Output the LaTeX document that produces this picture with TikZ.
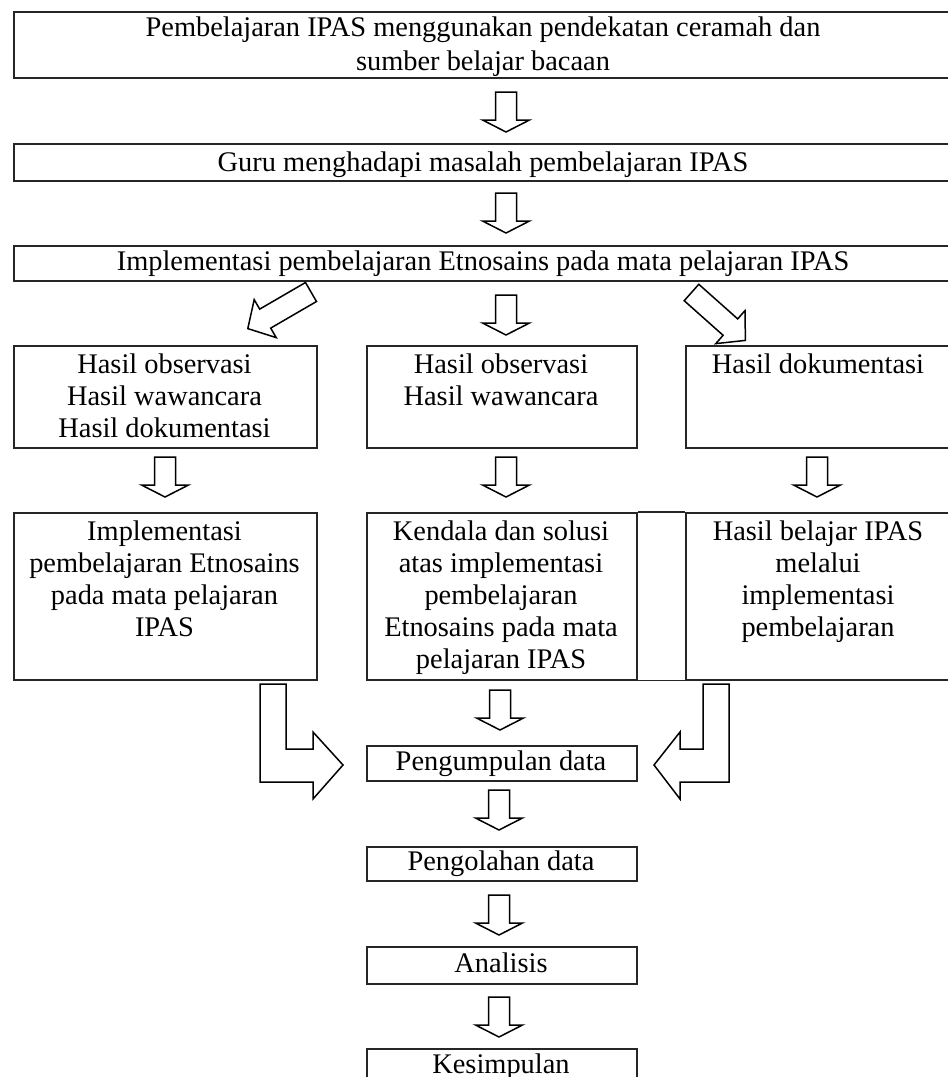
\documentclass[tikz,border=0pt]{standalone}
\usepackage{fontspec}
\setmainfont{Liberation Serif}
\newcommand\varr[1]{\draw[blk] (#1) ++(-10.5,0) -- ++(0,28) -- ++(-13,0) -- ++(23.5,12) -- ++(23.5,-12) -- ++(-13,0) -- ++(0,-28) -- cycle;}
\begin{document}
\begin{tikzpicture}[x=1pt,y=-1pt,
  box/.style={draw=black!85, line width=1.6pt, inner sep=0pt, anchor=north west},
  boxline/.style={draw=black!85, line width=1.6pt},
  txt/.style={inner sep=0pt, align=center, anchor=base, font=\fontsize{28.4}{32}\selectfont},
  blk/.style={draw=black, line width=1.5pt, fill=white, line join=miter}]
\useasboundingbox (0,0) rectangle (948,1077);
% boxes
\node[box, minimum width=940pt, minimum height=66pt] (top) at (13,11) {};
\node[box, minimum width=940pt, minimum height=37pt] (guru) at (13,143) {};
\node[box, minimum width=940pt, minimum height=35pt] (impl) at (13,245) {};
\node[box, minimum width=303pt, minimum height=102pt] (hA) at (13,345) {};
\node[box, minimum width=270pt, minimum height=102pt] (hB) at (366,345) {};
\node[box, minimum width=268pt, minimum height=102pt] (hC) at (685,345) {};
\node[box, minimum width=303pt, minimum height=167pt] (rA) at (13,512) {};
\node[box, minimum width=270pt, minimum height=167pt] (rB) at (366,512) {};
\node[box, minimum width=268pt, minimum height=167pt] (rC) at (685,512) {};
\draw[boxline] (rB.north east) -- (rC.north west);
\draw[boxline] (rB.south east) -- (rC.south west);
\node[box, minimum width=270pt, minimum height=35pt] (peng) at (366,745) {};
\node[box, minimum width=270pt, minimum height=34pt] (olah) at (366,846) {};
\node[box, minimum width=270pt, minimum height=37pt] (anal) at (366,946) {};
\node[box, minimum width=270pt, minimum height=40pt] (kes) at (366,1048) {};
% texts (anchor base = baseline of last line)
\node[txt] (ttop) at (483,70) {Pembelajaran IPAS menggunakan pendekatan ceramah dan\\[2pt] sumber belajar bacaan};
\node[txt] (tguru) at (483,171) {Guru menghadapi masalah pembelajaran IPAS};
\node[txt] (timpl) at (483,270.5) {Implementasi pembelajaran Etnosains pada mata pelajaran IPAS};
\node[txt] (thA) at (164.5,437) {Hasil observasi\\Hasil wawancara\\Hasil dokumentasi};
\node[txt] (thB) at (501,405) {Hasil observasi\\Hasil wawancara};
\node[txt] (thC) at (818,373) {Hasil dokumentasi};
\node[txt] (trA) at (164.5,636) {Implementasi\\pembelajaran Etnosains\\pada mata pelajaran\\IPAS};
\node[txt] (trB) at (501,668) {Kendala dan solusi\\atas implementasi\\pembelajaran\\Etnosains pada mata\\pelajaran IPAS};
\node[txt] (trC) at (818,636) {Hasil belajar IPAS\\melalui\\implementasi\\pembelajaran};
\node[txt] (tpeng) at (501,770) {Pengumpulan data};
\node[txt] (tolah) at (501,870) {Pengolahan data};
\node[txt] (tanal) at (501,972.5) {Analisis};
\node[txt] (tkes) at (501,1073) {Kesimpulan};
% vertical block arrows
\coordinate (a1) at (506,92);
\coordinate (a2) at (506,193);
\coordinate (a3) at (506,295);
\coordinate (a4) at (165,457);
\coordinate (a5) at (506,457);
\coordinate (a6) at (817,457);
\coordinate (a7) at (500,690);
\coordinate (a8) at (499,790);
\coordinate (a9) at (499,895);
\coordinate (a10) at (499,997);
\varr{a1}\varr{a2}\varr{a3}\varr{a4}\varr{a5}\varr{a6}\varr{a7}\varr{a8}\varr{a9}\varr{a10}
% diagonal block arrows
\draw[blk] (305.5,282.5) -- (316.5,301.5) -- (270.7,328.1) -- (276.2,337.6) -- (247.8,328.6) -- (254.2,299.6) -- (259.7,309.1) -- cycle;
\draw[blk] (698.8,284.3) -- (684.2,300.7) -- (723.1,335.3) -- (715.8,343.6) -- (745.4,340.4) -- (745.0,310.6) -- (737.7,318.9) -- cycle;
% L-shaped block arrows
\draw[blk] (260,684) -- (260,782) -- (313,782) -- (313,799) -- (343,765) -- (313,732) -- (313,749) -- (286,749) -- (286,684) -- cycle;
\draw[blk] (729,684) -- (729,782) -- (680,782) -- (680,799) -- (654,765) -- (680,732) -- (680,749) -- (703,749) -- (703,684) -- cycle;
\end{tikzpicture}
\end{document}
